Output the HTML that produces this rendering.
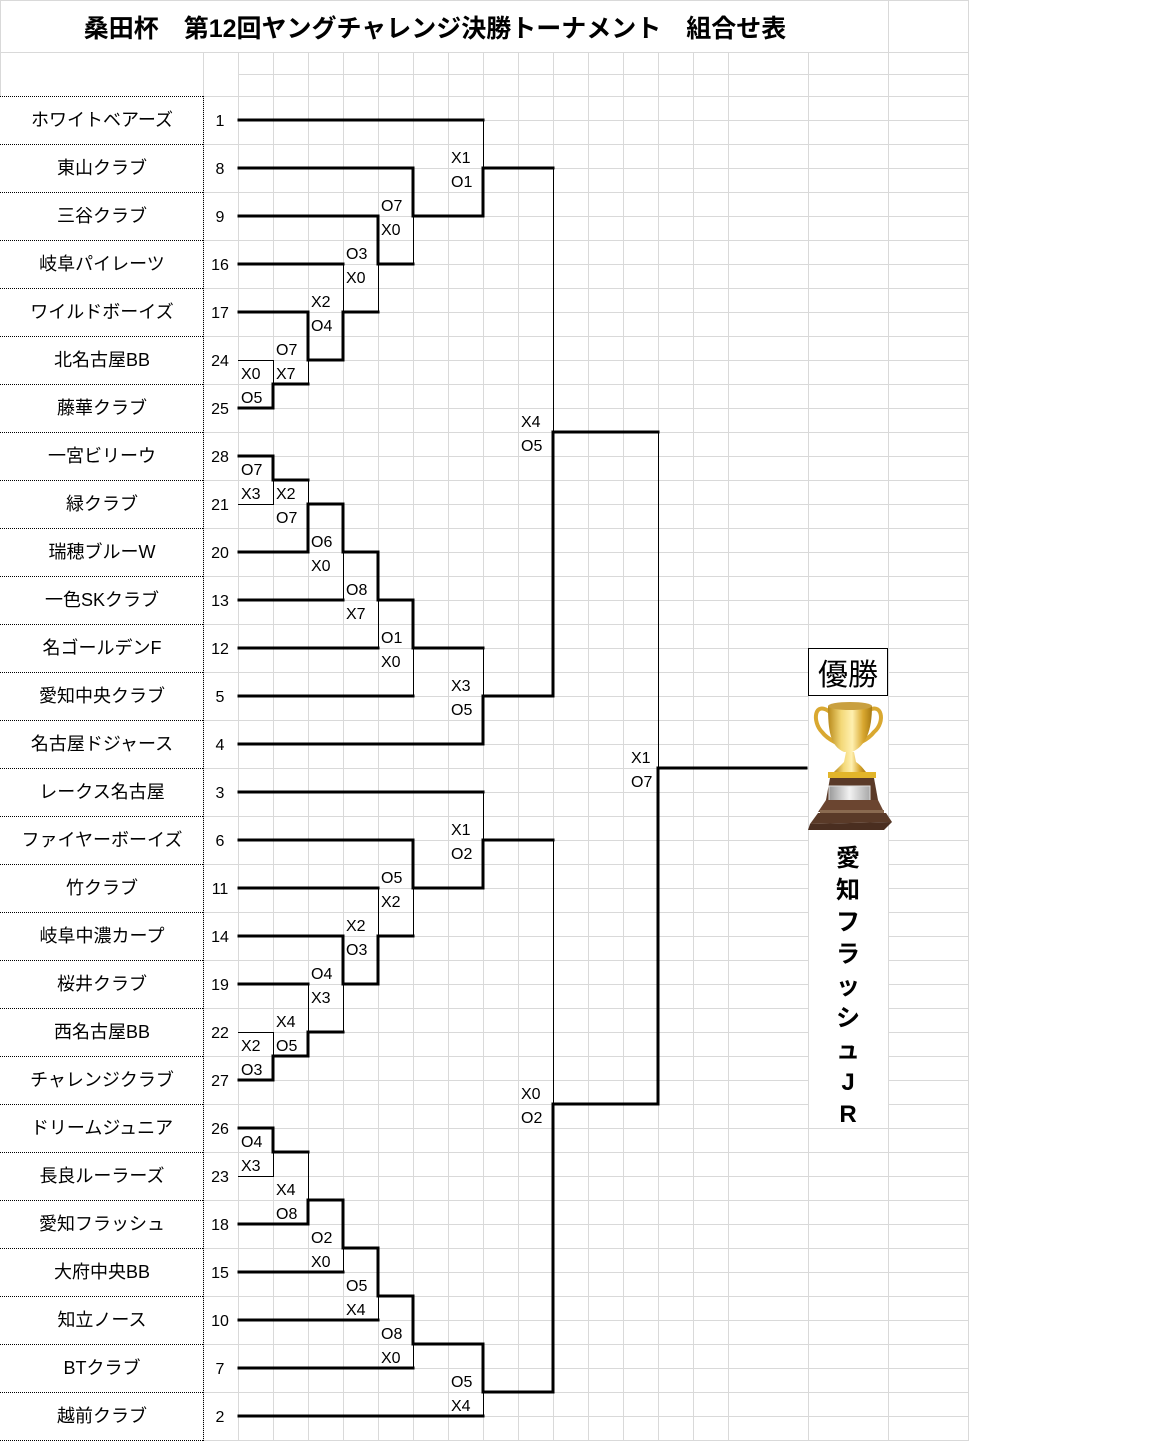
<!DOCTYPE html>
<html><head><meta charset="utf-8"><style>
html,body{margin:0;padding:0;background:#fff;}
svg{display:block;}
text{font-family:"Liberation Sans","Noto Sans CJK JP",sans-serif;}
</style></head><body>
<svg width="1152" height="1441" viewBox="0 0 1152 1441" xmlns="http://www.w3.org/2000/svg">
<defs>
<pattern id="g1" patternUnits="userSpaceOnUse" x="238" y="96" width="35" height="24"><path d="M0 0.5H35M0.5 0V24" stroke="#d9d9d9" stroke-width="1" fill="none"/></pattern>
<pattern id="g2" patternUnits="userSpaceOnUse" x="728" y="96" width="80" height="24"><path d="M0 0.5H80M0.5 0V24" stroke="#d9d9d9" stroke-width="1" fill="none"/></pattern>
<pattern id="g3" patternUnits="userSpaceOnUse" x="203" y="96" width="35" height="48"><path d="M0 0.5H35M0.5 0V48" stroke="#d9d9d9" stroke-width="1" fill="none"/></pattern>
<linearGradient id="gold" x1="0" x2="1" y1="0" y2="0"><stop offset="0" stop-color="#b8891a"/><stop offset="0.3" stop-color="#f3d878"/><stop offset="0.55" stop-color="#fff0b0"/><stop offset="0.8" stop-color="#d9a830"/><stop offset="1" stop-color="#a87a12"/></linearGradient>
<linearGradient id="silver" x1="0" x2="1"><stop offset="0" stop-color="#9a9a9a"/><stop offset="0.5" stop-color="#f2f2f2"/><stop offset="1" stop-color="#a8a8a8"/></linearGradient>
</defs>
<rect x="238" y="96" width="490" height="1345" fill="url(#g1)"/>
<rect x="728" y="96" width="240" height="1345" fill="url(#g2)"/>
<rect x="203" y="96" width="35" height="1345" fill="url(#g3)"/>
<g stroke="#d9d9d9" stroke-width="1">
<line x1="0" y1="0.5" x2="968" y2="0.5"/>
<line x1="0" y1="52.5" x2="968" y2="52.5"/>
<line x1="238" y1="74.5" x2="968" y2="74.5"/>
<line x1="888.5" y1="0" x2="888.5" y2="1441"/>
<line x1="968.5" y1="0" x2="968.5" y2="1441"/>
<line x1="203.5" y1="52" x2="203.5" y2="96"/>
<line x1="0.5" y1="0" x2="0.5" y2="96"/>
</g>
<g stroke="#d9d9d9" stroke-width="1">
<line x1="238.5" y1="52" x2="238.5" y2="96"/><line x1="273.5" y1="52" x2="273.5" y2="96"/><line x1="308.5" y1="52" x2="308.5" y2="96"/><line x1="343.5" y1="52" x2="343.5" y2="96"/><line x1="378.5" y1="52" x2="378.5" y2="96"/><line x1="413.5" y1="52" x2="413.5" y2="96"/><line x1="448.5" y1="52" x2="448.5" y2="96"/><line x1="483.5" y1="52" x2="483.5" y2="96"/><line x1="518.5" y1="52" x2="518.5" y2="96"/><line x1="553.5" y1="52" x2="553.5" y2="96"/><line x1="588.5" y1="52" x2="588.5" y2="96"/><line x1="623.5" y1="52" x2="623.5" y2="96"/><line x1="658.5" y1="52" x2="658.5" y2="96"/><line x1="693.5" y1="52" x2="693.5" y2="96"/><line x1="728.5" y1="52" x2="728.5" y2="96"/><line x1="808.5" y1="52" x2="808.5" y2="96"/>
</g>
<g stroke="#000" stroke-width="1" stroke-dasharray="1,1">
<line x1="203.5" y1="96" x2="203.5" y2="1441"/>
<line x1="0" y1="96.5" x2="203" y2="96.5"/><line x1="0" y1="144.5" x2="203" y2="144.5"/><line x1="0" y1="192.5" x2="203" y2="192.5"/><line x1="0" y1="240.5" x2="203" y2="240.5"/><line x1="0" y1="288.5" x2="203" y2="288.5"/><line x1="0" y1="336.5" x2="203" y2="336.5"/><line x1="0" y1="384.5" x2="203" y2="384.5"/><line x1="0" y1="432.5" x2="203" y2="432.5"/><line x1="0" y1="480.5" x2="203" y2="480.5"/><line x1="0" y1="528.5" x2="203" y2="528.5"/><line x1="0" y1="576.5" x2="203" y2="576.5"/><line x1="0" y1="624.5" x2="203" y2="624.5"/><line x1="0" y1="672.5" x2="203" y2="672.5"/><line x1="0" y1="720.5" x2="203" y2="720.5"/><line x1="0" y1="768.5" x2="203" y2="768.5"/><line x1="0" y1="816.5" x2="203" y2="816.5"/><line x1="0" y1="864.5" x2="203" y2="864.5"/><line x1="0" y1="912.5" x2="203" y2="912.5"/><line x1="0" y1="960.5" x2="203" y2="960.5"/><line x1="0" y1="1008.5" x2="203" y2="1008.5"/><line x1="0" y1="1056.5" x2="203" y2="1056.5"/><line x1="0" y1="1104.5" x2="203" y2="1104.5"/><line x1="0" y1="1152.5" x2="203" y2="1152.5"/><line x1="0" y1="1200.5" x2="203" y2="1200.5"/><line x1="0" y1="1248.5" x2="203" y2="1248.5"/><line x1="0" y1="1296.5" x2="203" y2="1296.5"/><line x1="0" y1="1344.5" x2="203" y2="1344.5"/><line x1="0" y1="1392.5" x2="203" y2="1392.5"/><line x1="0" y1="1440.5" x2="203" y2="1440.5"/>
</g>
<rect x="809" y="648" width="79" height="480" fill="#fff"/>
<text x="435" y="37" font-size="25" font-weight="bold" text-anchor="middle">桑田杯　第12回ヤングチャレンジ決勝トーナメント　組合せ表</text>
<g font-size="18" text-anchor="middle">
<text x="102" y="126">ホワイトベアーズ</text><text x="102" y="174">東山クラブ</text><text x="102" y="222">三谷クラブ</text><text x="102" y="270">岐阜パイレーツ</text><text x="102" y="318">ワイルドボーイズ</text><text x="102" y="366">北名古屋BB</text><text x="102" y="414">藤華クラブ</text><text x="102" y="462">一宮ビリーウ</text><text x="102" y="510">緑クラブ</text><text x="102" y="558">瑞穂ブルーW</text><text x="102" y="606">一色SKクラブ</text><text x="102" y="654">名ゴールデンF</text><text x="102" y="702">愛知中央クラブ</text><text x="102" y="750">名古屋ドジャース</text><text x="102" y="798">レークス名古屋</text><text x="102" y="846">ファイヤーボーイズ</text><text x="102" y="894">竹クラブ</text><text x="102" y="942">岐阜中濃カープ</text><text x="102" y="990">桜井クラブ</text><text x="102" y="1038">西名古屋BB</text><text x="102" y="1086">チャレンジクラブ</text><text x="102" y="1134">ドリームジュニア</text><text x="102" y="1182">長良ルーラーズ</text><text x="102" y="1230">愛知フラッシュ</text><text x="102" y="1278">大府中央BB</text><text x="102" y="1326">知立ノース</text><text x="102" y="1374">BTクラブ</text><text x="102" y="1422">越前クラブ</text>
</g>
<g font-size="16" text-anchor="middle">
<text x="220" y="126">1</text><text x="220" y="174">8</text><text x="220" y="222">9</text><text x="220" y="270">16</text><text x="220" y="318">17</text><text x="220" y="366">24</text><text x="220" y="414">25</text><text x="220" y="462">28</text><text x="220" y="510">21</text><text x="220" y="558">20</text><text x="220" y="606">13</text><text x="220" y="654">12</text><text x="220" y="702">5</text><text x="220" y="750">4</text><text x="220" y="798">3</text><text x="220" y="846">6</text><text x="220" y="894">11</text><text x="220" y="942">14</text><text x="220" y="990">19</text><text x="220" y="1038">22</text><text x="220" y="1086">27</text><text x="220" y="1134">26</text><text x="220" y="1182">23</text><text x="220" y="1230">18</text><text x="220" y="1278">15</text><text x="220" y="1326">10</text><text x="220" y="1374">7</text><text x="220" y="1422">2</text>
</g>
<g stroke="#000" stroke-width="1" fill="none">
<path d="M238 360.5H273.5V384"/><path d="M238 504.5H273.5V480"/><path d="M238 1032.5H273.5V1056"/><path d="M238 1176.5H273.5V1152"/>
<path d="M483.5 120V168"/><path d="M413.5 216V264"/><path d="M378.5 264V312"/><path d="M343.5 264V312"/><path d="M308.5 360V384"/>
<path d="M308.5 480V504"/><path d="M343.5 552V600"/><path d="M378.5 600V648"/><path d="M413.5 648V696"/><path d="M483.5 648V696"/>
<path d="M553.5 168V432"/><path d="M658.5 432V768"/>
<path d="M483.5 792V840"/><path d="M413.5 888V936"/><path d="M378.5 888V936"/><path d="M343.5 984V1032"/><path d="M308.5 984V1032"/>
<path d="M308.5 1152V1200"/><path d="M343.5 1248V1272"/><path d="M378.5 1296V1320"/><path d="M413.5 1344V1368"/><path d="M483.5 1392V1416"/>
<path d="M553.5 840V1104"/>
</g>
<g stroke="#000" stroke-width="3" fill="none" stroke-linecap="square" stroke-linejoin="miter">
<path d="M239 120H483"/><path d="M239 168H413V216H483V168H553"/><path d="M239 216H378V264H413"/><path d="M239 264H343"/>
<path d="M239 312H308V360H343V312H378"/><path d="M239 408H273V384H308"/>
<path d="M239 456H273V480H308"/><path d="M239 552H308V504H343V552H378V600H413V648H483"/>
<path d="M239 600H343"/><path d="M239 648H378"/><path d="M239 696H413"/><path d="M239 744H483V696H553V432H658"/>
<path d="M239 792H483"/><path d="M239 840H413V888H483V840H553"/><path d="M239 888H378"/><path d="M239 936H343V984H378V936H413"/>
<path d="M239 984H308"/><path d="M239 1080H273V1056H308V1032H343"/>
<path d="M239 1128H273V1152H308"/><path d="M239 1224H308V1200H343V1248H378V1296H413V1344H483V1392H553V1104H658V768H806"/>
<path d="M239 1272H343"/><path d="M239 1320H378"/><path d="M239 1368H413"/><path d="M239 1416H483"/>
</g>
<g font-size="16">
<text x="241" y="379">X0</text><text x="241" y="403">O5</text>
<text x="276" y="355">O7</text><text x="276" y="379">X7</text>
<text x="311" y="307">X2</text><text x="311" y="331">O4</text>
<text x="346" y="259">O3</text><text x="346" y="283">X0</text>
<text x="381" y="211">O7</text><text x="381" y="235">X0</text>
<text x="451" y="163">X1</text><text x="451" y="187">O1</text>
<text x="241" y="475">O7</text><text x="241" y="499">X3</text>
<text x="276" y="499">X2</text><text x="276" y="523">O7</text>
<text x="311" y="547">O6</text><text x="311" y="571">X0</text>
<text x="346" y="595">O8</text><text x="346" y="619">X7</text>
<text x="381" y="643">O1</text><text x="381" y="667">X0</text>
<text x="451" y="691">X3</text><text x="451" y="715">O5</text>
<text x="521" y="427">X4</text><text x="521" y="451">O5</text>
<text x="241" y="1051">X2</text><text x="241" y="1075">O3</text>
<text x="276" y="1027">X4</text><text x="276" y="1051">O5</text>
<text x="311" y="979">O4</text><text x="311" y="1003">X3</text>
<text x="346" y="931">X2</text><text x="346" y="955">O3</text>
<text x="381" y="883">O5</text><text x="381" y="907">X2</text>
<text x="451" y="835">X1</text><text x="451" y="859">O2</text>
<text x="241" y="1147">O4</text><text x="241" y="1171">X3</text>
<text x="276" y="1195">X4</text><text x="276" y="1219">O8</text>
<text x="311" y="1243">O2</text><text x="311" y="1267">X0</text>
<text x="346" y="1291">O5</text><text x="346" y="1315">X4</text>
<text x="381" y="1339">O8</text><text x="381" y="1363">X0</text>
<text x="451" y="1387">O5</text><text x="451" y="1411">X4</text>
<text x="521" y="1099">X0</text><text x="521" y="1123">O2</text>
<text x="631" y="763">X1</text><text x="631" y="787">O7</text>
</g>
<rect x="808.5" y="648.5" width="79" height="47" fill="#fff" stroke="#000" stroke-width="1"/>
<text x="848" y="685" font-size="30" text-anchor="middle">優勝</text>
<g>
<path d="M830 712 C814 700 812 722 822 732 C828 740 836 742 838 744" stroke="#d9a830" stroke-width="4" fill="none"/>
<path d="M866 712 C882 700 886 722 874 732 C868 740 860 742 858 744" stroke="#d9a830" stroke-width="4" fill="none"/>
<path d="M828 706 L872 706 C872 730 866 746 852 752 L844 752 C830 746 828 730 828 706Z" fill="url(#gold)"/>
<ellipse cx="850" cy="706" rx="22" ry="4" fill="#c9a040"/>
<path d="M846 752 L854 752 L856 762 C862 766 864 770 866 772 L834 772 C836 770 840 766 844 762Z" fill="url(#gold)"/>
<rect x="828" y="772" width="48" height="6" fill="#e2b52a"/>
<path d="M830 778 L874 778 L878 800 L826 800Z" fill="#5a3a28"/>
<rect x="829" y="786" width="41" height="19" fill="url(#silver)" stroke="#ddd"/>
<path d="M826 800 L878 800 L884 812 L818 812Z" fill="#6b4530"/>
<rect x="820" y="810" width="64" height="3" fill="#8a6a50"/>
<path d="M818 813 L886 813 L892 822 L810 824Z" fill="#5a3a28"/>
<path d="M810 824 L892 822 L884 830 L808 830Z" fill="#4a2e20"/>
</g>
<g font-size="24" font-weight="bold" text-anchor="middle">
<text x="848" y="866">愛</text><text x="848" y="898">知</text><text x="848" y="930">フ</text><text x="848" y="962">ラ</text><text x="848" y="994">ッ</text><text x="848" y="1026">シ</text><text x="848" y="1058">ュ</text><text x="848" y="1090">J</text><text x="848" y="1122">R</text>
</g>
</svg>
</body></html>
